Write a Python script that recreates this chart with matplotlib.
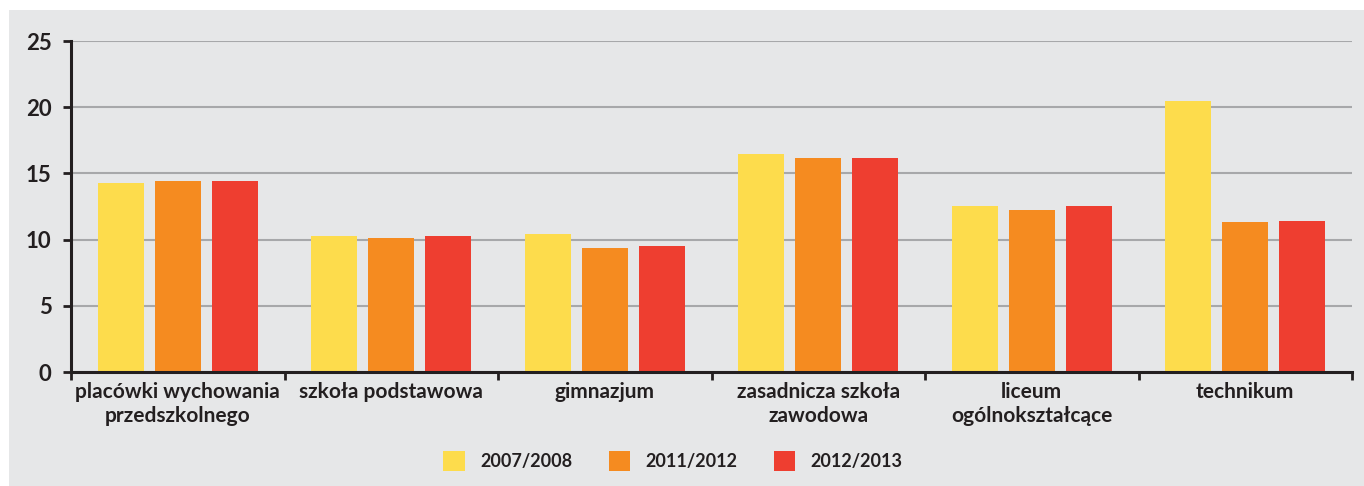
import matplotlib.pyplot as plt
import numpy as np
from matplotlib.patches import Rectangle

categories = ["placówki wychowania\nprzedszkolnego", "szkoła podstawowa", "gimnazjum",
              "zasadnicza szkoła\nzawodowa", "liceum\nogólnokształcące", "technikum"]
years = ["2007/2008", "2011/2012", "2012/2013"]
v_2007 = [14.3, 10.3, 10.4, 16.5, 12.5, 20.5]
v_2011 = [14.4, 10.1, 9.4, 16.2, 12.2, 11.3]
v_2012 = [14.4, 10.3, 9.5, 16.2, 12.5, 11.4]
y_ticks = [0, 5, 10, 15, 20, 25]

colors = ["#fddc4c", "#f58b20", "#ee3e30"]
bg = "#e6e7e8"
ink = "#231f20"

plt.rcParams['font.family'] = ['Lato', 'DejaVu Sans']
plt.rcParams['font.weight'] = 'bold'

W, H = 1364, 486
fig = plt.figure(figsize=(W / 100, H / 100), dpi=100)
fig.patch.set_facecolor("white")
fig.patches.append(Rectangle((9 / W, 0), 1 - 9 / W, 1 - 10 / H, transform=fig.transFigure,
                             facecolor=bg, edgecolor="none", zorder=-10))

ax = fig.add_axes([71 / W, 114 / H, (1352 - 71) / W, (372 - 41) / H])
ax.set_facecolor(bg)
ax.patch.set_alpha(0)

x = np.arange(len(categories))
step = 0.267
width = 0.215
for i, vals in enumerate([v_2007, v_2011, v_2012]):
    ax.bar(x + (i - 1) * step, vals, width, color=colors[i], label=years[i], zorder=3)

ax.set_xlim(-0.5, len(categories) - 0.5)
ax.set_ylim(0, 25)
ax.set_yticks(y_ticks)
ax.set_yticklabels([str(t) for t in y_ticks], fontsize=16, color=ink)
ax.yaxis.grid(True, color="#a7a8aa", linewidth=1.5, zorder=0)

ax.set_xticks(x)
ax.set_xticklabels(categories, fontsize=15, color=ink, linespacing=1.25)
ax.set_xticks(np.arange(len(categories) + 1) - 0.5, minor=True)
ax.tick_params(axis='x', which='major', length=0, pad=7)
ax.tick_params(axis='x', which='minor', length=6, width=2, color=ink, direction='out')
ax.tick_params(axis='y', length=6, width=2, color=ink, pad=8)

for side in ["top", "right"]:
    ax.spines[side].set_visible(False)
for side in ["left", "bottom"]:
    ax.spines[side].set_color(ink)
    ax.spines[side].set_linewidth(2.2)
    ax.spines[side].set_zorder(4)

handles, labels = ax.get_legend_handles_labels()
fig.legend(handles, labels, loc="center", bbox_to_anchor=(673 / W, 1 - 461 / H), ncol=3,
           frameon=False, fontsize=13, handlelength=1.2, handleheight=1.3,
           handletextpad=0.85, columnspacing=2.0, labelcolor=ink)

fig.savefig("out.png", dpi=100)
